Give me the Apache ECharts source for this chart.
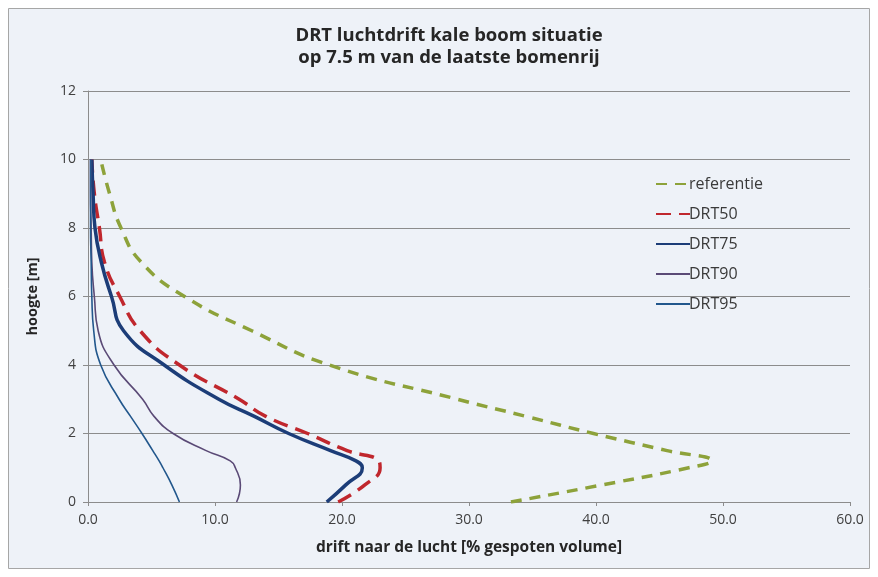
<!DOCTYPE html>
<html>
<head>
<meta charset="utf-8">
<script src="https://cdn.jsdelivr.net/npm/echarts@6/dist/echarts.min.js"></script>
<style>
html,body{margin:0;padding:0;background:#fff;}
#c{width:878px;height:577px;}
</style>
</head>
<body>
<div id="c"></div>
<script>
var titleLines = ['DRT luchtdrift kale boom situatie', 'op 7.5 m van de laatste bomenrij'];
var xAxisName = 'drift naar de lucht [% gespoten volume]';
var yAxisName = 'hoogte [m]';
var heights = [0, 0.5, 1, 1.2, 1.5, 2, 2.5, 3, 4, 5, 6, 7, 8, 9, 10];
var seriesNames = ['referentie', 'DRT50', 'DRT75', 'DRT90', 'DRT95'];
var referentie = [33.3, 40.5, 47.3, 49.1, 45.6, 39.8, 34.5, 29.1, 19.0, 12.9, 7.6, 4.2, 2.6, 1.7, 1.0];
var drt50 = [19.7, 21.8, 23.0, 22.9, 20.4, 17.3, 14.0, 11.9, 7.2, 4.1, 2.5, 1.3, 0.9, 0.5, 0.3];
var drt75 = [18.8, 20.3, 21.6, 21.1, 19.1, 15.8, 13.1, 10.3, 6.0, 2.8, 1.85, 1.05, 0.55, 0.4, 0.3];
var drt90 = [11.7, 12.0, 11.6, 11.2, 9.3, 6.7, 5.2, 4.3, 2.05, 0.8, 0.5, 0.3, 0.25, 0.2, 0.2];
var drt95 = [7.2, 6.6, 5.9, 5.6, 5.1, 4.25, 3.35, 2.45, 1.0, 0.45, 0.3, 0.25, 0.2, 0.2, 0.2];

function pairs(vals){ return vals.map(function(v,i){ return [v, heights[i]]; }); }

var styles = [
  {color:'#8da23a', width:3.5, type:[11,8]},
  {color:'#c0272d', width:3.5, type:[15,8]},
  {color:'#1c3d78', width:3.5, type:'solid'},
  {color:'#5a4a76', width:1.6, type:'solid'},
  {color:'#22578c', width:1.6, type:'solid'}
];
var allVals = [referentie, drt50, drt75, drt90, drt95];

var chart = echarts.init(document.getElementById('c'));
var font = '"Open Sans", "Noto Sans", sans-serif';
chart.setOption({
  backgroundColor: '#ffffff',
  animation: false,
  textStyle: {fontFamily: font},
  graphic: [{
    type: 'rect', z: -10, silent: true,
    shape: {x: 8.5, y: 8.5, width: 861, height: 560},
    style: {fill: '#eef2f8', stroke: '#a6a6a6', lineWidth: 1}
  }],
  title: {
    text: titleLines.join('\n'),
    left: 444, top: 20, textAlign: 'center',
    textStyle: {fontSize: 18.5, fontWeight: 'bold', color: '#262626', lineHeight: 22, fontFamily: font}
  },
  legend: {
    orient: 'vertical', left: 650, top: 171,
    itemWidth: 34, itemHeight: 14, itemGap: 14,
    itemStyle: {opacity: 0},
    textStyle: {fontSize: 16, color: '#3a3a3a', fontFamily: font, padding: [0,0,0,-6]},
    data: seriesNames
  },
  grid: {left: 88, right: 28, top: 91, bottom: 75, containLabel: false},
  xAxis: {
    type: 'value', min: 0, max: 60, interval: 10,
    name: xAxisName, nameLocation: 'middle', nameGap: 38,
    nameTextStyle: {fontSize: 15.5, fontWeight: 'bold', color: '#262626'},
    axisLine: {show: true, lineStyle: {color: '#8c8c8c'}},
    axisTick: {show: true, length: 4, lineStyle: {color: '#8c8c8c'}},
    axisLabel: {fontSize: 14, color: '#404040', margin: 11, formatter: function(v){ return v.toFixed(1); }},
    splitLine: {show: false}
  },
  yAxis: {
    type: 'value', min: 0, max: 12, interval: 2,
    name: yAxisName, nameLocation: 'middle', nameGap: 48, nameRotate: 90,
    nameTextStyle: {fontSize: 14.5, fontWeight: 'bold', color: '#262626'},
    axisLine: {show: true, lineStyle: {color: '#8c8c8c'}},
    axisTick: {show: true, length: 5, lineStyle: {color: '#8c8c8c'}},
    axisLabel: {fontSize: 14, color: '#404040', margin: 12},
    splitLine: {show: true, lineStyle: {color: '#8c8c8c', width: 1}}
  },
  series: seriesNames.map(function(n, i){
    return {
      name: n, type: 'line', smooth: 0.5, showSymbol: false, symbol: 'none',
      data: pairs(allVals[i]),
      itemStyle: {color: styles[i].color},
      lineStyle: {color: styles[i].color, width: styles[i].width, type: styles[i].type, cap: 'butt'},
      z: 2 + i
    };
  })
});
</script>
</body>
</html>
